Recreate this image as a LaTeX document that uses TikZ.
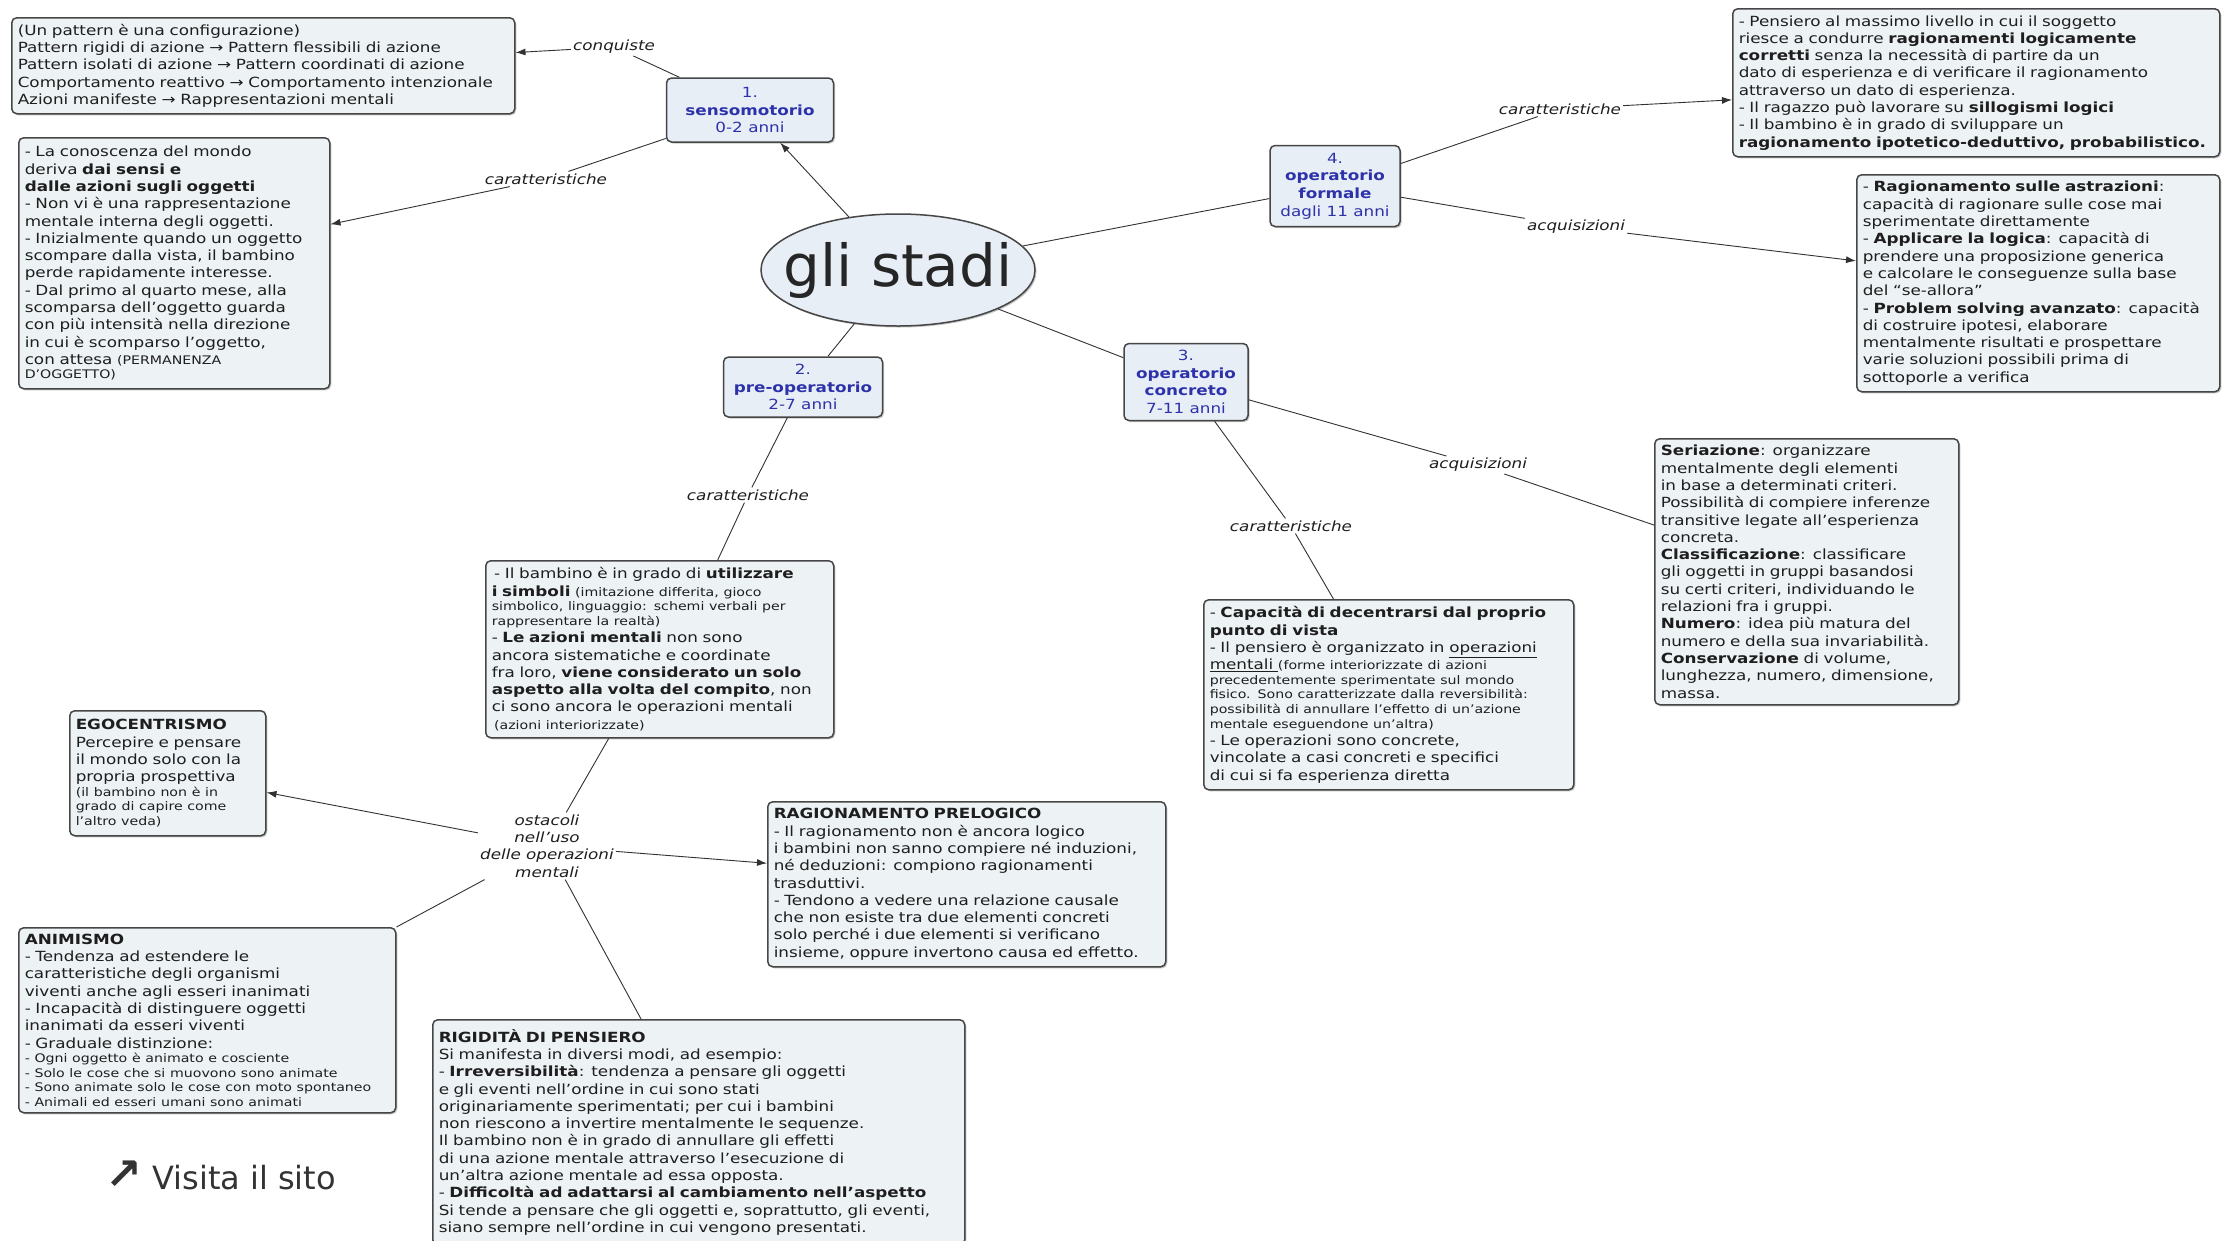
\documentclass[tikz,border=0pt]{standalone}
\usepackage{fontspec}
\setmainfont[FakeStretch=1.2]{DejaVu Sans}
\newfontfamily\titlefont{DejaVu Sans}
\usetikzlibrary{arrows.meta,shapes.geometric,shadows}

\definecolor{boxfill}{RGB}{237,242,245}
\definecolor{boxline}{RGB}{70,70,70}
\definecolor{stagefill}{RGB}{232,238,246}
\definecolor{stageblue}{RGB}{45,50,170}
\definecolor{linkgray}{RGB}{50,50,50}
\definecolor{textgray}{RGB}{30,30,30}

\newcommand{\bodyfont}{\fontsize{14}{17.3}\selectfont}
\newcommand{\stagefont}{\fontsize{14}{17.7}\selectfont}
\newcommand{\sm}[1]{{\fontsize{11.8}{14.5}\selectfont #1}}

\tikzset{
  infobox/.style={draw=boxline, fill=boxfill, line width=1.5pt, rounded corners=5pt,
    anchor=north west, align=left, inner xsep=6pt, inner ysep=3pt, font=\bodyfont,
    text=textgray, drop shadow={shadow xshift=1.5pt, shadow yshift=-1.5pt, fill=black!45}},
  stagebox/.style={draw=boxline, fill=stagefill, line width=1.5pt, rounded corners=5pt,
    align=center, inner sep=3pt, font=\stagefont, text=stageblue,
    drop shadow={shadow xshift=1.5pt, shadow yshift=-1.5pt, fill=black!45}},
  linklabel/.style={fill=white, inner sep=2pt, font=\bodyfont\itshape, text=textgray},
  link/.style={draw=linkgray, line width=0.9pt},
  linkarrow/.style={link, -{Latex[length=10pt,width=7pt]}},
}

\begin{document}
\begin{tikzpicture}[x=1pt,y=-1pt]
  \useasboundingbox (0,0) rectangle (2222,1240);
  \fill[white] (0,0) rectangle (2222,1240);
  \clip (0,0) rectangle (2222,1240);

  % centro
  \node[ellipse, draw=boxline, fill=stagefill, line width=1.5pt, minimum width=274pt,
    minimum height=112pt, inner xsep=-18pt, inner ysep=0pt, text=black!85,
    font=\titlefont\fontsize{58}{62}\selectfont,
    drop shadow={shadow xshift=1.5pt, shadow yshift=-1.5pt, fill=black!45}] (stadi) at (898,270) {gli stadi};

  % stadi
  \node[stagebox, minimum width=167pt, minimum height=64pt] (sens) at (750,110) {1.\\\textbf{sensomotorio}\\0-2 anni};
  \node[stagebox, minimum width=159pt, minimum height=60pt] (preop) at (803,387) {2.\\\textbf{pre-operatorio}\\2-7 anni};
  \node[stagebox, minimum width=124pt, minimum height=77pt] (concr) at (1186,382) {3.\\\textbf{operatorio}\\\textbf{concreto}\\7-11 anni};
  \node[stagebox, minimum width=130pt, minimum height=81pt] (formal) at (1335,186) {4.\\\textbf{operatorio}\\\textbf{formale}\\dagli 11 anni};

  % sensomotorio
  \node[infobox, text width=491pt, minimum height=96pt] (patt) at (11,17) {(Un pattern è una configurazione)\\
    Pattern rigidi di azione → Pattern flessibili di azione\\
    Pattern isolati di azione → Pattern coordinati di azione\\
    Comportamento reattivo → Comportamento intenzionale\\
    Azioni manifeste → Rappresentazioni mentali};
  \node[infobox, text width=299pt, minimum height=251pt] (sensbox) at (18,137) {- La conoscenza del mondo\\
    deriva \textbf{dai sensi e}\\
    \textbf{dalle azioni sugli oggetti}\\
    - Non vi è una rappresentazione\\
    mentale interna degli oggetti.\\
    - Inizialmente quando un oggetto\\
    scompare dalla vista, il bambino\\
    perde rapidamente interesse.\\
    - Dal primo al quarto mese, alla\\
    scomparsa dell'oggetto guarda\\
    con più intensità nella direzione\\
    in cui è scomparso l'oggetto,\\
    con attesa \sm{(PERMANENZA}\\[-3pt]
    \sm{D'OGGETTO)}};

  % formale
  \node[infobox, text width=475pt, minimum height=148pt] (formcar) at (1732,8) {- Pensiero al massimo livello in cui il soggetto\\
    riesce a condurre \textbf{ragionamenti logicamente}\\
    \textbf{corretti} senza la necessità di partire da un\\
    dato di esperienza e di verificare il ragionamento\\
    attraverso un dato di esperienza.\\
    - Il ragazzo può lavorare su \textbf{sillogismi logici}\\
    - Il bambino è in grado di sviluppare un\\
    \textbf{ragionamento ipotetico-deduttivo, probabilistico.}};
  \node[infobox, text width=351pt, minimum height=217pt] (formacq) at (1856,174) {- \textbf{Ragionamento sulle astrazioni}:\\
    capacità di ragionare sulle cose mai\\
    sperimentate direttamente\\
    - \textbf{Applicare la logica}: capacità di\\
    prendere una proposizione generica\\
    e calcolare le conseguenze sulla base\\
    del “se-allora”\\
    - \textbf{Problem solving avanzato}: capacità\\
    di costruire ipotesi, elaborare\\
    mentalmente risultati e prospettare\\
    varie soluzioni possibili prima di\\
    sottoporle a verifica};

  % concreto
  \node[infobox, text width=292pt, minimum height=266pt] (ser) at (1654,438) {\textbf{Seriazione}: organizzare\\
    mentalmente degli elementi\\
    in base a determinati criteri.\\
    Possibilità di compiere inferenze\\
    transitive legate all'esperienza\\
    concreta.\\
    \textbf{Classificazione}: classificare\\
    gli oggetti in gruppi basandosi\\
    su certi criteri, individuando le\\
    relazioni fra i gruppi.\\
    \textbf{Numero}: idea più matura del\\
    numero e della sua invariabilità.\\
    \textbf{Conservazione} di volume,\\
    lunghezza, numero, dimensione,\\
    massa.};
  \node[infobox, text width=358pt, minimum height=190pt] (conc) at (1203,599) {- \textbf{Capacità di decentrarsi dal proprio}\\
    \textbf{punto di vista}\\
    - Il pensiero è organizzato in \underline{operazioni}\\
    \underline{mentali }\sm{(forme interiorizzate di azioni}\\[-2.7pt]
    \sm{precedentemente sperimentate sul mondo}\\[-2.7pt]
    \sm{fisico. Sono caratterizzate dalla reversibilità:}\\[-2.7pt]
    \sm{possibilità di annullare l'effetto di un'azione}\\[-2.7pt]
    \sm{mentale eseguendone un'altra)}\\
    - Le operazioni sono concrete,\\
    vincolate a casi concreti e specifici\\
    di cui si fa esperienza diretta};

  % pre-operatorio
  \node[infobox, text width=336pt, minimum height=177pt] (prebox) at (485,560) {\,- Il bambino è in grado di \textbf{utilizzare}\\
    \textbf{i simboli} \sm{(imitazione differita, gioco}\\[-2.7pt]
    \sm{simbolico, linguaggio: schemi verbali per}\\[-2.7pt]
    \sm{rappresentare la realtà)}\\
    - \textbf{Le azioni mentali} non sono\\
    ancora sistematiche e coordinate\\
    fra loro, \textbf{viene considerato un solo}\\
    \textbf{aspetto alla volta del compito}, non\\
    ci sono ancora le operazioni mentali\\
    \,\sm{(azioni interiorizzate)}};
  \node[infobox, text width=184pt, minimum height=125pt] (ego) at (69,710) {\textbf{EGOCENTRISMO}\\
    Percepire e pensare\\
    il mondo solo con la\\
    propria prospettiva\\[-2.7pt]
    \sm{(il bambino non è in}\\[-2.7pt]
    \sm{grado di capire come}\\[-2.7pt]
    \sm{l'altro veda)}};
  \node[infobox, text width=365pt, minimum height=185pt] (anim) at (18,927) {\textbf{ANIMISMO}\\
    - Tendenza ad estendere le\\
    caratteristiche degli organismi\\
    viventi anche agli esseri inanimati\\
    - Incapacità di distinguere oggetti\\
    inanimati da esseri viventi\\
    - Graduale distinzione:\\[-2.7pt]
    \sm{- Ogni oggetto è animato e cosciente}\\[-2.7pt]
    \sm{- Solo le cose che si muovono sono animate}\\[-2.7pt]
    \sm{- Sono animate solo le cose con moto spontaneo}\\[-2.7pt]
    \sm{- Animali ed esseri umani sono animati}};
  \node[infobox, text width=386pt, minimum height=165pt] (prel) at (767,801) {\textbf{RAGIONAMENTO PRELOGICO}\\
    - Il ragionamento non è ancora logico\\
    i bambini non sanno compiere né induzioni,\\
    né deduzioni: compiono ragionamenti\\
    trasduttivi.\\
    - Tendono a vedere una relazione causale\\
    che non esiste tra due elementi concreti\\
    solo perché i due elementi si verificano\\
    insieme, oppure invertono causa ed effetto.};
  \node[infobox, text width=520pt, minimum height=225pt] (rig) at (432,1019) {\textbf{RIGIDITÀ DI PENSIERO}\\
    Si manifesta in diversi modi, ad esempio:\\
    - \textbf{Irreversibilità}: tendenza a pensare gli oggetti\\
    e gli eventi nell'ordine in cui sono stati\\
    originariamente sperimentati; per cui i bambini\\
    non riescono a invertire mentalmente le sequenze.\\
    Il bambino non è in grado di annullare gli effetti\\
    di una azione mentale attraverso l'esecuzione di\\
    un'altra azione mentale ad essa opposta.\\
    - \textbf{Difficoltà ad adattarsi al cambiamento nell'aspetto}\\
    Si tende a pensare che gli oggetti e, soprattutto, gli eventi,\\
    siano sempre nell'ordine in cui vengono presentati.};

  % etichette dei collegamenti
  \node[linklabel] (conq) at (614,47) {conquiste};
  \node[linklabel] (car1) at (546,179) {caratteristiche};
  \node[linklabel] (car4) at (1560,109) {caratteristiche};
  \node[linklabel] (acq4) at (1576,227) {acquisizioni};
  \node[linklabel] (acq3) at (1478,465) {acquisizioni};
  \node[linklabel] (car3) at (1291,526) {caratteristiche};
  \node[linklabel] (car2) at (748,495) {caratteristiche};
  \node[linklabel, align=center] (ostac) at (547,846) {ostacoli\\nell'uso\\delle operazioni\\mentali};

  % collegamenti
  \draw[linkarrow] (stadi) -- (sens);
  \draw[link] (stadi) -- (preop);
  \draw[link] (stadi) -- (concr);
  \draw[link] (stadi) -- (formal);
  \draw[link] (sens) -- (conq);
  \draw[linkarrow] (conq) -- (patt.3);
  \draw[link] (sens) -- (car1);
  \draw[linkarrow] (car1) -- (sensbox.14);
  \draw[link] (formal) -- (car4);
  \draw[linkarrow] (car4) -- (formcar.184);
  \draw[link] (formal) -- (acq4);
  \draw[linkarrow] (acq4) -- (formacq.173);
  \draw[link] (concr) -- (acq3);
  \draw[link] (acq3) -- (ser.163);
  \draw[link] (concr) -- (car3);
  \draw[link] (car3) -- (conc.120);
  \draw[link] (preop) -- (car2);
  \draw[link] (car2) -- (prebox.57);
  \draw[link] (prebox) -- (ostac);
  \draw[linkarrow] (ostac) -- (ego.-11);
  \draw[linkarrow] (ostac) -- (prel.174);
  \draw[link] (ostac) -- (anim.north east);
  \draw[link] (ostac) -- (rig.117);

  \node[anchor=west, text=black!80, font=\titlefont\fontsize{32}{36}\selectfont] (visita) at (102,1175) {{\fontsize{44}{44}\selectfont\bfseries ↗}\hspace{10pt}Visita il sito};
\end{tikzpicture}
\end{document}
